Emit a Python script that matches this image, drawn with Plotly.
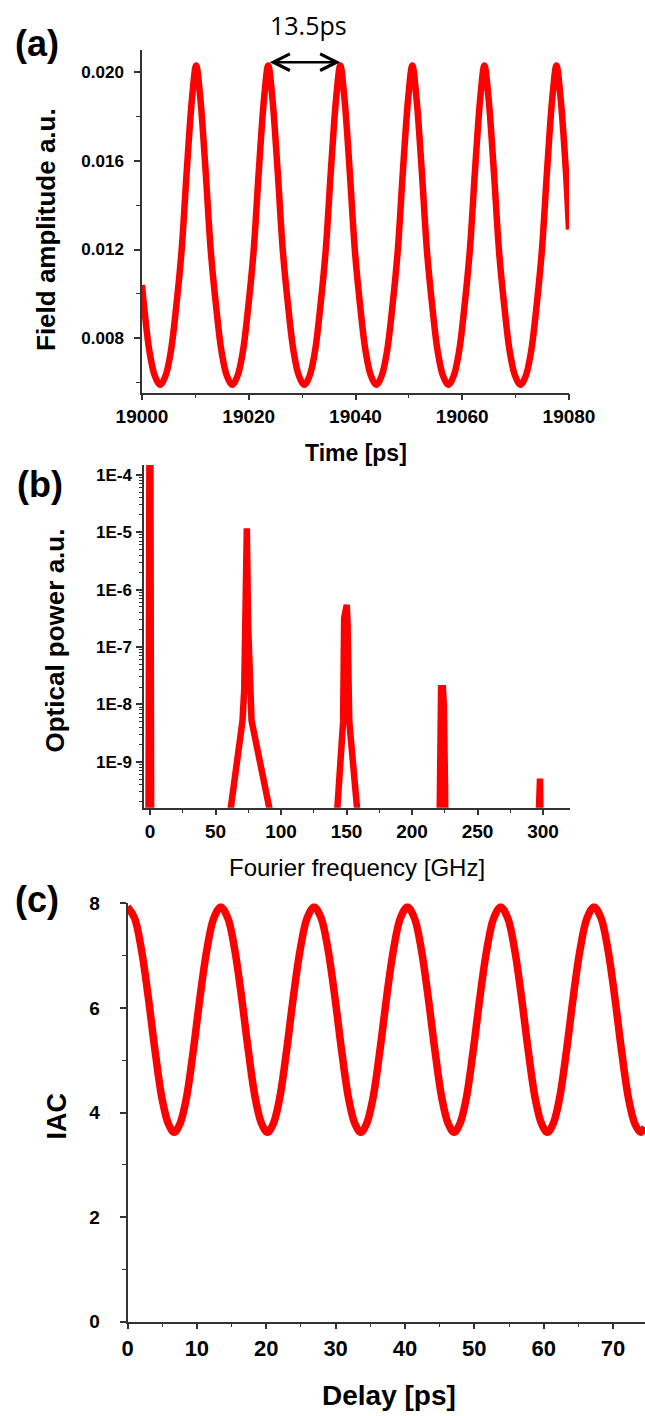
import plotly.graph_objects as go

# ---------------- Panel (a): field amplitude vs time ----------------
time_ps = [19000.0, 19000.4, 19001.4, 19002.4, 19003.4, 19004.4, 19005.4, 19006.4, 19007.4, 19008.4, 19009.4,
           19010.15, 19010.9, 19011.9, 19012.9, 19013.9, 19014.9, 19015.9, 19016.9, 19017.9, 19018.9, 19019.9,
           19020.9, 19021.9, 19022.9, 19023.65, 19024.4, 19025.4, 19026.4, 19027.4, 19028.4, 19029.4, 19030.4,
           19031.4, 19032.4, 19033.4, 19034.4, 19035.4, 19036.4, 19037.15, 19037.9, 19038.9, 19039.9, 19040.9,
           19041.9, 19042.9, 19043.9, 19044.9, 19045.9, 19046.9, 19047.9, 19048.9, 19049.9, 19050.65, 19051.4,
           19052.4, 19053.4, 19054.4, 19055.4, 19056.4, 19057.4, 19058.4, 19059.4, 19060.4, 19061.4, 19062.4,
           19063.4, 19064.15, 19064.9, 19065.9, 19066.9, 19067.9, 19068.9, 19069.9, 19070.9, 19071.9, 19072.9,
           19073.9, 19074.9, 19075.9, 19076.9, 19077.65, 19078.4, 19079.4, 19080.0]
field_amp = [0.0104, 0.0094, 0.0074, 0.0063, 0.0059, 0.0063, 0.0074, 0.0094, 0.0119, 0.0156, 0.0189,
             0.0203, 0.0189, 0.0156, 0.0119, 0.0094, 0.0074, 0.0063, 0.0059, 0.0063, 0.0074, 0.0094,
             0.0119, 0.0156, 0.0189, 0.0203, 0.0189, 0.0156, 0.0119, 0.0094, 0.0074, 0.0063, 0.0059,
             0.0063, 0.0074, 0.0094, 0.0119, 0.0156, 0.0189, 0.0203, 0.0189, 0.0156, 0.0119, 0.0094,
             0.0074, 0.0063, 0.0059, 0.0063, 0.0074, 0.0094, 0.0119, 0.0156, 0.0189, 0.0203, 0.0189,
             0.0156, 0.0119, 0.0094, 0.0074, 0.0063, 0.0059, 0.0063, 0.0074, 0.0094, 0.0119, 0.0156,
             0.0189, 0.0203, 0.0189, 0.0156, 0.0119, 0.0094, 0.0074, 0.0063, 0.0059, 0.0063, 0.0074,
             0.0094, 0.0119, 0.0156, 0.0189, 0.0203, 0.0189, 0.0156, 0.0129]
a_xticks = [19000, 19020, 19040, 19060, 19080]
a_yticks = [0.008, 0.012, 0.016, 0.020]
arrow_label = "13.5ps"
arrow_y = 0.02045

# ---------------- Panel (b): optical spectrum ----------------
freq_ghz = [-4.6, -1.2, -0.5, 0.3, 0.9,
            57.6, 61.7, 70.6, 71.9, 72.6, 73.3, 73.9, 74.9, 76.5, 77.5, 91.0, 97.2,
            141.0, 143.0, 147.4, 148.2, 149.2, 150.2, 150.8, 152.1, 158.0, 160.8,
            220.8, 221.7, 222.2, 223.6, 224.3, 225.2, 225.6,
            295.9, 296.5, 297.7, 298.3, 320.6]
opt_power = [3.2e-11, 3.2e-11, 1.35e-4, 1.35e-4, 3.2e-11,
             3.2e-11, 1.6e-10, 5.2e-9, 1.8e-8, 2.4e-7, 1.17e-5, 1.17e-5, 2.4e-7, 1.8e-8, 5.2e-9, 1.6e-10, 3.2e-11,
             3.2e-11, 1.6e-10, 5.0e-9, 3.2e-7, 5.4e-7, 5.4e-7, 2.5e-7, 5.0e-9, 1.6e-10, 3.2e-11,
             3.2e-11, 6.0e-10, 1.9e-8, 1.9e-8, 1.0e-8, 3.7e-10, 3.2e-11,
             3.2e-11, 5.1e-10, 5.1e-10, 3.2e-11, 3.2e-11]
b_yticks = [1e-9, 1e-8, 1e-7, 1e-6, 1e-5, 1e-4]
b_yticktext = ["1E-9", "1E-8", "1E-7", "1E-6", "1E-5", "1E-4"]
b_xticks = [0, 50, 100, 150, 200, 250, 300]

# ---------------- Panel (c): intensity autocorrelation ----------------
delay_ps = [0.0, 1.0, 2.0, 3.0, 4.0, 5.0, 5.9, 6.725, 7.55, 8.45, 9.45, 10.45, 11.45, 12.45,
            13.45, 14.45, 15.45, 16.45, 17.45, 18.45, 19.35, 20.175, 21.0, 21.9, 22.9, 23.9, 24.9, 25.9,
            26.9, 27.9, 28.9, 29.9, 30.9, 31.9, 32.8, 33.625, 34.45, 35.35, 36.35, 37.35, 38.35, 39.35,
            40.35, 41.35, 42.35, 43.35, 44.35, 45.35, 46.25, 47.075, 47.9, 48.8, 49.8, 50.8, 51.8, 52.8,
            53.8, 54.8, 55.8, 56.8, 57.8, 58.8, 59.7, 60.525, 61.35, 62.25, 63.25, 64.25, 65.25, 66.25,
            67.25, 68.25, 69.25, 70.25, 71.25, 72.25, 73.15, 73.975, 74.6]
iac = [7.93, 7.72, 7.12, 6.20, 5.15, 4.25, 3.78, 3.62, 3.78, 4.25, 5.15, 6.20, 7.12, 7.72,
       7.93, 7.72, 7.12, 6.20, 5.15, 4.25, 3.78, 3.62, 3.78, 4.25, 5.15, 6.20, 7.12, 7.72,
       7.93, 7.72, 7.12, 6.20, 5.15, 4.25, 3.78, 3.62, 3.78, 4.25, 5.15, 6.20, 7.12, 7.72,
       7.93, 7.72, 7.12, 6.20, 5.15, 4.25, 3.78, 3.62, 3.78, 4.25, 5.15, 6.20, 7.12, 7.72,
       7.93, 7.72, 7.12, 6.20, 5.15, 4.25, 3.78, 3.62, 3.78, 4.25, 5.15, 6.20, 7.12, 7.72,
       7.93, 7.72, 7.12, 6.20, 5.15, 4.25, 3.78, 3.62, 3.72]
c_xticks = [0, 10, 20, 30, 40, 50, 60, 70]
c_yticks = [0, 2, 4, 6, 8]

# ---------------- figure ----------------
W, H = 645, 1416
RED = "#ff0000"
AX = "#333333"
FONT = "Liberation Sans, Arial, sans-serif"


def px_x(p):
    return p / W


def px_y(p):
    return 1 - p / H


fig = go.Figure()
fig.add_trace(go.Scatter(x=time_ps, y=field_amp, mode="lines", xaxis="x", yaxis="y",
                         line=dict(color=RED, width=6.5, shape="spline", smoothing=1.0),
                         showlegend=False, hoverinfo="skip"))
fig.add_trace(go.Scatter(x=freq_ghz, y=opt_power, mode="lines", xaxis="x2", yaxis="y2",
                         line=dict(color=RED, width=6.5), showlegend=False, hoverinfo="skip"))
fig.add_trace(go.Scatter(x=delay_ps, y=iac, mode="lines", xaxis="x3", yaxis="y3",
                         line=dict(color=RED, width=7.5, shape="spline", smoothing=1.0),
                         showlegend=False, hoverinfo="skip"))


def axis_common(**kw):
    base = dict(showline=True, linecolor=AX, linewidth=1.5, showgrid=False, zeroline=False,
                ticks="outside", ticklen=6, tickwidth=1.5, tickcolor=AX, automargin=False,
                mirror=False)
    base.update(kw)
    return base


def minor_lin(d):
    return dict(dtick=d, ticks="outside", ticklen=4, tickwidth=1.2, tickcolor=AX, showgrid=False)


b_minor = []
for dec in range(-10, -3):
    for m in range(2, 10):
        v = m * 10.0 ** dec
        if 10 ** -9.8 <= v <= 10 ** -3.83:
            b_minor.append(v)

fig.update_layout(
    width=W, height=H,
    margin=dict(l=0, r=0, t=0, b=0),
    paper_bgcolor="white", plot_bgcolor="white",
    font=dict(family=FONT, color="black"),
    xaxis=axis_common(domain=[px_x(142), px_x(569)], anchor="y", range=[19000, 19080],
                      tickvals=a_xticks, tickformat="d", minor=minor_lin(10),
                      tickfont=dict(size=19, family=FONT, weight="bold")),
    yaxis=axis_common(domain=[px_y(392.7), px_y(50)], anchor="x", range=[0.00554, 0.021],
                      tickvals=a_yticks, tickformat=".3f", minor=minor_lin(0.002),
                      tickfont=dict(size=17, family=FONT, weight="bold"), ticklabelstandoff=7),
    xaxis2=axis_common(domain=[px_x(144), px_x(570)], anchor="y2", range=[-4.6, 320.6],
                       tickvals=b_xticks, minor=minor_lin(25),
                       tickfont=dict(size=19, family=FONT, weight="bold")),
    yaxis2=axis_common(domain=[px_y(807.7), px_y(465)], anchor="x2", type="log", range=[-9.8, -3.83],
                       tickvals=b_yticks, ticktext=b_yticktext, ticklen=6,
                       minor=dict(tickvals=b_minor, ticks="outside", ticklen=3, tickwidth=1, tickcolor=AX,
                                  showgrid=False),
                       tickfont=dict(size=17, family=FONT, weight="bold"), ticklabelstandoff=1),
    xaxis3=axis_common(domain=[px_x(127.5), 1.0], anchor="y3", range=[0, 74.6],
                       tickvals=c_xticks, minor=minor_lin(5),
                       tickfont=dict(size=22, family=FONT, weight="bold")),
    yaxis3=axis_common(domain=[px_y(1321.7), px_y(903.3)], anchor="x3", range=[0, 8],
                       tickvals=c_yticks, minor=minor_lin(1),
                       tickfont=dict(size=19, family=FONT, weight="bold"), ticklabelstandoff=16),
)

ann = []


def label(text, x, y, size, bold=True, angle=0, family=FONT):
    ann.append(dict(text=text, x=px_x(x), y=px_y(y), xref="paper", yref="paper",
                    xanchor="center", yanchor="middle", showarrow=False, textangle=angle,
                    font=dict(size=size, family=family, color="black",
                              weight="bold" if bold else "normal")))


label("(a)", 37, 44, 36)
label("(b)", 40, 484, 36)
label("(c)", 37, 899, 36)
label("Field amplitude a.u.", 46, 230, 26, angle=-90)
label("Time [ps]", 356, 453, 23)
label("Optical power a.u.", 54.5, 641, 26, angle=-90)
label("Fourier frequency [GHz]", 357, 867, 24, bold=False)
label("IAC", 56.5, 1116, 27, angle=-90)
label("Delay [ps]", 388.7, 1395, 28)
label(arrow_label, 308, 25, 25, bold=False, family="Open Sans, Liberation Sans, sans-serif")

# double arrow between the 2nd and 3rd peaks of panel (a)
peak_times = [t for t, v in zip(time_ps, field_amp) if v == max(field_amp)]
ann.append(dict(x=peak_times[2], y=arrow_y, ax=peak_times[1], ay=arrow_y,
                xref="x", yref="y", axref="x", ayref="y", text="", showarrow=True,
                arrowside="end+start", arrowhead=5, startarrowhead=5,
                arrowsize=1.3, startarrowsize=1.3, arrowwidth=2.5, arrowcolor="black"))

fig.update_layout(annotations=ann)
fig.write_html("out.html")
